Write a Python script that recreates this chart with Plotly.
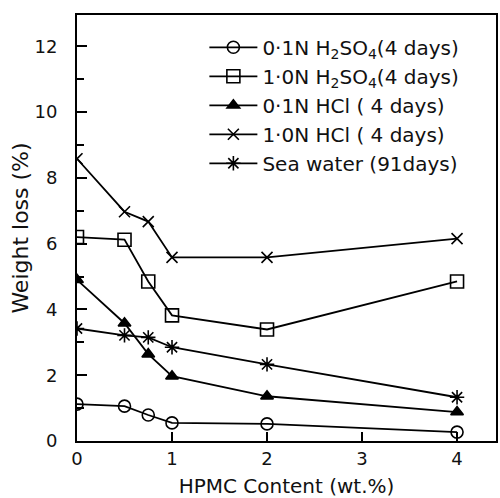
import plotly.graph_objects as go

hpmc = [0, 0.5, 0.75, 1, 2, 4]
h2so4_01 = [1.12, 1.06, 0.79, 0.55, 0.52, 0.27]
h2so4_10 = [6.2, 6.12, 4.85, 3.82, 3.39, 4.85]
hcl_01 = [4.9, 3.58, 2.64, 1.97, 1.36, 0.88]
hcl_10 = [8.58, 6.97, 6.67, 5.58, 5.58, 6.15]
sea = [3.42, 3.21, 3.15, 2.85, 2.33, 1.33]

names = [
    "0·1N H<sub>2</sub>SO<sub>4</sub>(4 days)",
    "1·0N H<sub>2</sub>SO<sub>4</sub>(4 days)",
    "0·1N HCl ( 4 days)",
    "1·0N HCl ( 4 days)",
    "Sea water (91days)",
]
series = [h2so4_01, h2so4_10, hcl_01, hcl_10, sea]
symbols = ["circle-open", "square-open", "triangle-up", "x-thin-open", "asterisk-open"]
sizes = [12, 13, 11, 11, 12]

fig = go.Figure()
for nm, ys, sym, sz in zip(names, series, symbols, sizes):
    fig.add_trace(go.Scatter(
        x=hpmc, y=ys, name=nm, mode="lines+markers",
        line=dict(color="black", width=1.8),
        marker=dict(symbol=sym, size=sz, color="black",
                    line=dict(color="black", width=1.6)),
    ))

font = "DejaVu Sans"
fig.update_layout(
    width=500, height=498,
    margin=dict(l=77, r=2, t=15, b=56),
    paper_bgcolor="white", plot_bgcolor="white",
    font=dict(family=font, color="#111", size=18),
    showlegend=True,
    legend=dict(x=0.304, y=0.97, xanchor="left", yanchor="top",
                bgcolor="rgba(0,0,0,0)", font=dict(size=20),
                tracegroupgap=0, itemwidth=48),
    xaxis=dict(range=[0, 4.41], tickvals=[0, 1, 2, 3, 4],
               showline=True, linecolor="black", linewidth=2, mirror=True,
               ticks="inside", ticklen=9, tickwidth=1.5, tickcolor="black",
               showgrid=False, zeroline=False,
               title=dict(text="HPMC Content (wt.%)", font=dict(size=20), standoff=13)),
    yaxis=dict(range=[0, 12.95], tickvals=[0, 2, 4, 6, 8, 10, 12],
               showline=True, linecolor="black", linewidth=2, mirror=True,
               ticks="inside", ticklen=10, tickwidth=1.5, tickcolor="black",
               minor=dict(tickvals=[1, 3, 5, 7, 9, 11], ticks="inside", ticklen=7,
                          tickwidth=1.5, tickcolor="black"),
               showgrid=False, zeroline=False, ticklabelstandoff=14,
               title=dict(text="Weight loss (%)", font=dict(size=22), standoff=0)),
)
fig.write_html("out.html")
